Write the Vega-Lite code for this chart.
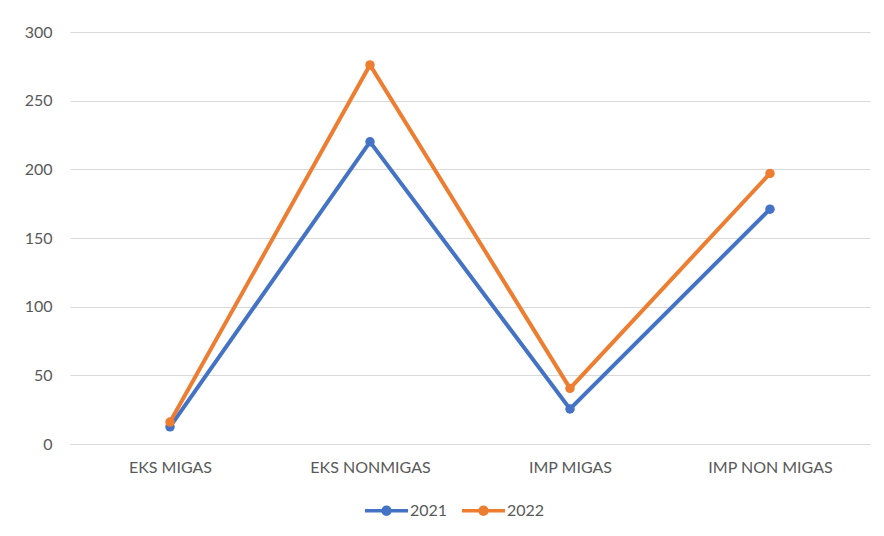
{
  "$schema": "https://vega.github.io/schema/vega-lite/v6.json",
  "autosize": "none",
  "width": 800,
  "height": 412,
  "padding": {"left": 70, "top": 32, "right": 14, "bottom": 92},
  "background": "white",
  "config": {
    "view": {"stroke": null},
    "font": "Lato",
    "axis": {"labelFont": "Lato", "labelColor": "#595959", "labelFontSize": 16, "gridColor": "#d9d9d9", "gridWidth": 1.2, "title": null},
    "legend": {"labelFont": "Lato", "labelColor": "#595959", "labelFontSize": 16}
  },
  "data": {
    "values": [
      {"kategori": "EKS MIGAS", "tahun": "2021", "nilai": 12.5},
      {"kategori": "EKS NONMIGAS", "tahun": "2021", "nilai": 220},
      {"kategori": "IMP MIGAS", "tahun": "2021", "nilai": 25.5},
      {"kategori": "IMP NON MIGAS", "tahun": "2021", "nilai": 171},
      {"kategori": "EKS MIGAS", "tahun": "2022", "nilai": 16},
      {"kategori": "EKS NONMIGAS", "tahun": "2022", "nilai": 276},
      {"kategori": "IMP MIGAS", "tahun": "2022", "nilai": 40.5},
      {"kategori": "IMP NON MIGAS", "tahun": "2022", "nilai": 197}
    ]
  },
  "encoding": {
    "x": {
      "field": "kategori", "type": "nominal", "sort": null,
      "scale": {"paddingInner": 0, "paddingOuter": 0},
      "axis": {"labelAngle": 0, "ticks": false, "domainColor": "#d9d9d9", "domainWidth": 1.2, "labelPadding": 15, "grid": false}
    },
    "y": {
      "field": "nilai", "type": "quantitative",
      "scale": {"domain": [0, 300], "nice": false},
      "axis": {"values": [0, 50, 100, 150, 200, 250, 300], "ticks": false, "domain": false, "labelPadding": 18}
    }
  },
  "resolve": {"legend": {"color": "independent"}},
  "layer": [
    {
      "mark": {"type": "line", "strokeWidth": 4},
      "encoding": {
        "color": {
          "field": "tahun", "type": "nominal", "legend": null,
          "scale": {"domain": ["2021", "2022"], "range": ["#4472C4", "#ED7D31"]}
        }
      }
    },
    {
      "mark": {"type": "point", "filled": true, "opacity": 1, "size": 90},
      "encoding": {
        "color": {
          "field": "tahun", "type": "nominal",
          "scale": {"domain": ["2021", "2022"], "range": ["#4472C4", "#ED7D31"]},
          "legend": {
            "title": null,
            "orient": "none",
            "direction": "horizontal",
            "legendX": 295,
            "legendY": 457,
            "symbolType": "M-1,-0.08L1,-0.08L1,0.08L-1,0.08Z M-0.24,0A0.24,0.24 0 1,1 0.24,0A0.24,0.24 0 1,1 -0.24,0Z",
            "symbolSize": 1849,
            "symbolStrokeWidth": 0,
            "symbolOpacity": 1,
            "labelOffset": 2,
            "columnPadding": 14
          }
        }
      }
    }
  ]
}
